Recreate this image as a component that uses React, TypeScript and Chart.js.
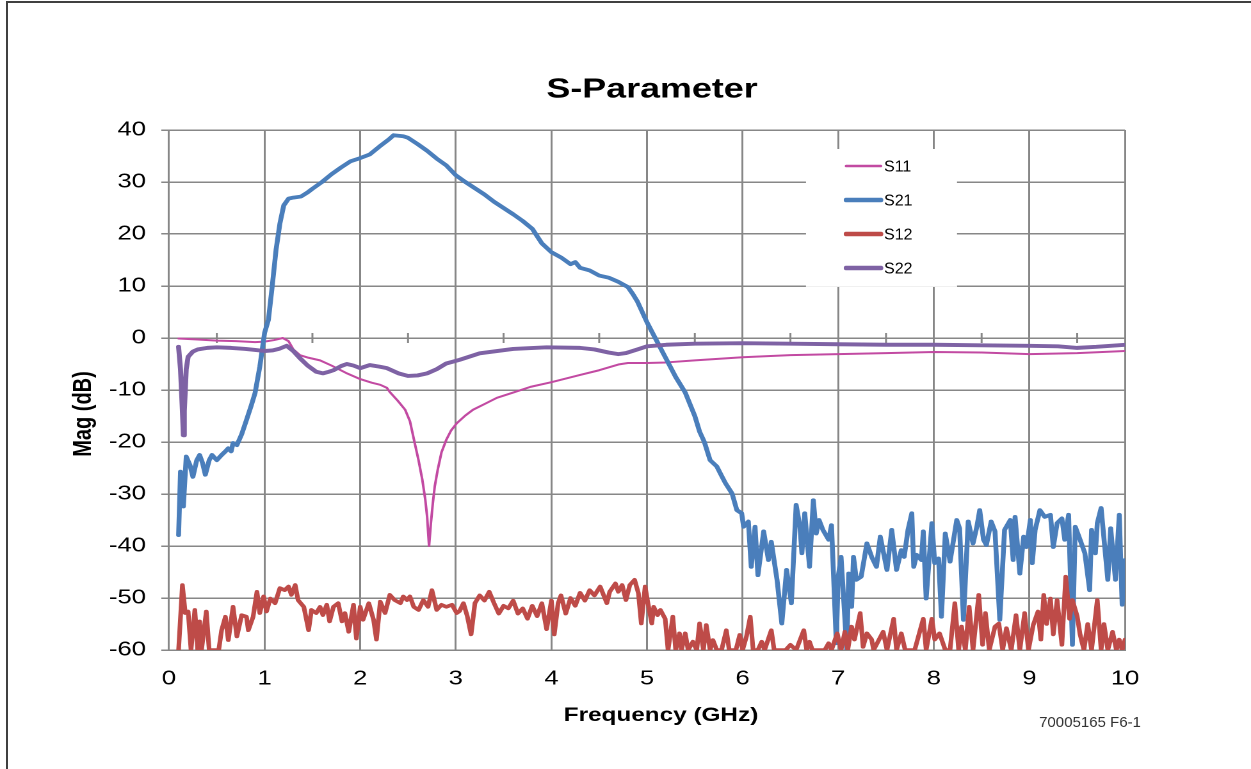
import React, { useEffect, useRef } from "react";
import { Chart, registerables } from "chart.js";

Chart.register(...registerables);

// ---------------- data ----------------
const chartTitle = "S-Parameter";
const xAxisTitle = "Frequency (GHz)";
const yAxisTitle = "Mag (dB)";
const footnote = "70005165 F6-1";

const xTickValues = [0, 1, 2, 3, 4, 5, 6, 7, 8, 9, 10];
const yTickValues = [-60, -50, -40, -30, -20, -10, 0, 10, 20, 30, 40];
const minorTickValues = [0.5, 1.5, 2.5, 3.5, 4.5, 5.5, 6.5, 7.5, 8.5, 9.5];

const seriesNames = ["S11", "S21", "S12", "S22"];
const seriesColors = ["#C24AA2", "#4A7EBB", "#BE4B48", "#7E62A4"];

const s11Freq = [0.1, 0.3, 0.5, 0.7, 0.9, 1.0, 1.1, 1.19, 1.25, 1.3, 1.37, 1.46, 1.58, 1.7, 1.85, 2.0, 2.12, 2.21, 2.28, 2.31, 2.39, 2.47, 2.52, 2.57, 2.61, 2.65, 2.68, 2.7, 2.72, 2.74, 2.76, 2.78, 2.81, 2.85, 2.9, 2.95, 3.01, 3.1, 3.18, 3.3, 3.43, 3.6, 3.78, 4.0, 4.3, 4.5, 4.7, 4.8, 5.0, 5.2, 5.5, 6.0, 6.5, 7.0, 7.5, 8.0, 8.5, 9.0, 9.5, 10.0];
const s11Mag = [-0.1, -0.3, -0.5, -0.6, -0.8, -0.7, -0.4, 0, -0.6, -2.2, -3.3, -3.8, -4.3, -5.3, -6.7, -7.9, -8.6, -9.0, -9.6, -10.4, -12.0, -13.8, -16.0, -20.2, -23.5, -27.3, -31.0, -34.4, -40.0, -35.5, -31.7, -28.5, -25.4, -22.0, -19.6, -17.8, -16.4, -14.9, -13.8, -12.7, -11.5, -10.5, -9.4, -8.5, -7.1, -6.2, -5.1, -4.8, -4.8, -4.7, -4.3, -3.7, -3.3, -3.1, -2.9, -2.7, -2.8, -3.1, -2.9, -2.5];

const s22Freq = [0.1, 0.12, 0.14, 0.15, 0.16, 0.18, 0.2, 0.25, 0.3, 0.4, 0.5, 0.65, 0.8, 0.9, 1.0, 1.08, 1.15, 1.23, 1.3, 1.37, 1.45, 1.54, 1.61, 1.67, 1.72, 1.8, 1.86, 1.93, 2.0, 2.1, 2.2, 2.28, 2.4, 2.5, 2.6, 2.7, 2.8, 2.9, 3.04, 3.25, 3.6, 3.95, 4.3, 4.45, 4.6, 4.7, 4.78, 4.9, 5.0, 5.2, 5.5, 6.0, 6.5, 7.0, 7.5, 8.0, 8.5, 9.0, 9.3, 9.5, 9.7, 10.0];
const s22Mag = [-1.7, -6.0, -14.0, -18.7, -14.0, -6.0, -3.6, -2.6, -2.2, -1.9, -1.8, -1.9, -2.1, -2.3, -2.5, -2.4, -2.1, -1.5, -2.5, -3.9, -5.3, -6.5, -6.8, -6.5, -6.2, -5.4, -5.0, -5.3, -5.8, -5.2, -5.5, -5.8, -6.8, -7.3, -7.2, -6.8, -6.0, -4.9, -4.2, -2.95, -2.1, -1.8, -1.9, -2.2, -2.8, -3.1, -2.9, -2.2, -1.6, -1.3, -1.1, -1.0, -1.1, -1.2, -1.3, -1.3, -1.4, -1.5, -1.6, -1.9, -1.7, -1.3];

const s21Freq = [0.1, 0.12, 0.15, 0.18, 0.22, 0.25, 0.29, 0.32, 0.35, 0.38, 0.42, 0.45, 0.5, 0.55, 0.59, 0.62, 0.65, 0.67, 0.71, 0.76, 0.81, 0.86, 0.9, 0.95, 1.0, 1.04, 1.08, 1.12, 1.16, 1.2, 1.25, 1.3, 1.38, 1.45, 1.5, 1.6, 1.7, 1.8, 1.9, 2.0, 2.1, 2.2, 2.3, 2.35, 2.45, 2.5, 2.6, 2.7, 2.8, 2.9, 3.0, 3.1, 3.2, 3.3, 3.4, 3.5, 3.6, 3.7, 3.8, 3.85, 3.9, 4.0, 4.1, 4.2, 4.25, 4.3, 4.4, 4.5, 4.6, 4.7, 4.8, 4.85, 4.9, 5.0, 5.1, 5.2, 5.3, 5.4, 5.5, 5.55, 5.6, 5.66, 5.73, 5.78, 5.82, 5.89, 5.94, 5.99, 6.01, 6.06, 6.09, 6.13, 6.16, 6.22, 6.27, 6.3, 6.36, 6.41, 6.46, 6.51, 6.56, 6.6, 6.62, 6.65, 6.7, 6.74, 6.77, 6.8, 6.84, 6.9, 6.93, 6.98, 7.0, 7.03, 7.09, 7.11, 7.14, 7.16, 7.19, 7.24, 7.3, 7.35, 7.4, 7.44, 7.51, 7.56, 7.61, 7.66, 7.69, 7.73, 7.77, 7.79, 7.82, 7.87, 7.89, 7.92, 7.98, 8.01, 8.05, 8.08, 8.12, 8.17, 8.24, 8.27, 8.31, 8.36, 8.41, 8.45, 8.48, 8.52, 8.55, 8.6, 8.64, 8.69, 8.74, 8.8, 8.83, 8.85, 8.9, 8.94, 8.97, 9.01, 9.03, 9.06, 9.11, 9.16, 9.22, 9.25, 9.29, 9.34, 9.37, 9.41, 9.45, 9.48, 9.53, 9.58, 9.63, 9.65, 9.69, 9.71, 9.75, 9.82, 9.85, 9.9, 9.94, 9.97, 10.0];
const s21Mag = [-37.9, -25.7, -32.4, -22.8, -24.5, -26.7, -23.5, -22.5, -24.0, -26.3, -23.5, -22.5, -23.5, -22.5, -21.8, -21.2, -21.8, -20.2, -20.6, -18.5, -15.8, -13.0, -10.6, -5.5, 1.0, 3.5, 10.0, 17.0, 22.0, 25.5, 26.8, 27.0, 27.2, 28.0, 28.7, 30.0, 31.5, 32.8, 34.0, 34.6, 35.3, 36.8, 38.2, 39.0, 38.8, 38.5, 37.3, 36.0, 34.5, 33.2, 31.3, 30.0, 28.8, 27.6, 26.2, 25.0, 23.8, 22.5, 21.0, 19.6, 18.2, 16.5, 15.5, 14.2, 14.6, 13.5, 13.0, 12.0, 11.6, 10.8, 9.8, 8.5, 7.0, 3.0, -0.5, -4.0, -7.5, -10.5, -15.0, -18.0, -20.0, -23.5, -24.7, -26.5, -27.9, -29.9, -33.1, -33.7, -36.3, -35.3, -44.0, -36.3, -45.6, -37.2, -42.7, -39.2, -46.5, -54.9, -44.6, -51.0, -32.1, -36.3, -41.4, -33.7, -44.0, -31.2, -37.6, -35.0, -36.9, -38.8, -36.0, -58.7, -45.9, -42.1, -60.0, -45.3, -51.7, -42.1, -46.5, -45.9, -39.5, -42.1, -44.0, -38.2, -44.6, -36.9, -44.6, -40.8, -42.1, -36.9, -33.7, -44.0, -41.7, -42.7, -37.2, -50.1, -35.6, -43.3, -42.4, -53.6, -37.6, -43.0, -35.0, -36.6, -54.2, -35.3, -39.5, -36.3, -33.1, -38.8, -39.8, -35.3, -37.2, -54.2, -36.9, -35.0, -42.7, -34.4, -45.3, -38.2, -40.2, -35.0, -43.3, -36.9, -33.1, -34.4, -34.0, -40.2, -35.6, -34.7, -38.8, -34.0, -59.0, -36.3, -38.8, -41.4, -48.5, -36.9, -41.4, -35.6, -32.7, -46.5, -36.6, -46.5, -34.0, -51.3, -42.7];

const s12Freq = [0.1, 0.14, 0.17, 0.2, 0.23, 0.27, 0.3, 0.32, 0.34, 0.39, 0.42, 0.52, 0.55, 0.59, 0.62, 0.67, 0.71, 0.76, 0.81, 0.83, 0.88, 0.92, 0.95, 0.99, 1.02, 1.06, 1.11, 1.16, 1.21, 1.25, 1.28, 1.32, 1.35, 1.41, 1.46, 1.49, 1.54, 1.58, 1.61, 1.65, 1.68, 1.72, 1.77, 1.81, 1.84, 1.88, 1.93, 1.96, 2.0, 2.03, 2.09, 2.14, 2.17, 2.21, 2.26, 2.31, 2.36, 2.42, 2.45, 2.49, 2.52, 2.56, 2.61, 2.66, 2.71, 2.75, 2.8, 2.85, 2.9, 2.96, 3.01, 3.04, 3.08, 3.12, 3.16, 3.2, 3.25, 3.3, 3.35, 3.4, 3.45, 3.5, 3.55, 3.6, 3.65, 3.7, 3.75, 3.8, 3.85, 3.9, 3.95, 4.0, 4.03, 4.07, 4.1, 4.15, 4.2, 4.25, 4.3, 4.35, 4.4, 4.45, 4.51, 4.58, 4.61, 4.67, 4.7, 4.74, 4.78, 4.82, 4.87, 4.91, 4.94, 4.98, 5.01, 5.05, 5.07, 5.11, 5.14, 5.19, 5.22, 5.27, 5.3, 5.34, 5.36, 5.4, 5.43, 5.48, 5.52, 5.55, 5.59, 5.62, 5.66, 5.69, 5.73, 5.78, 5.83, 5.86, 5.93, 5.97, 6.0, 6.04, 6.08, 6.11, 6.16, 6.2, 6.23, 6.3, 6.33, 6.45, 6.5, 6.56, 6.64, 6.67, 6.7, 6.73, 6.86, 6.9, 6.93, 6.99, 7.03, 7.07, 7.1, 7.14, 7.17, 7.23, 7.26, 7.3, 7.35, 7.37, 7.47, 7.51, 7.58, 7.61, 7.66, 7.7, 7.8, 7.89, 7.92, 7.98, 8.01, 8.06, 8.12, 8.17, 8.22, 8.26, 8.29, 8.33, 8.37, 8.41, 8.47, 8.51, 8.54, 8.58, 8.64, 8.68, 8.72, 8.76, 8.81, 8.86, 8.9, 8.95, 8.99, 9.04, 9.09, 9.12, 9.15, 9.18, 9.22, 9.25, 9.29, 9.34, 9.38, 9.42, 9.45, 9.5, 9.53, 9.57, 9.61, 9.65, 9.71, 9.75, 9.78, 9.82, 9.87, 9.91, 9.94, 9.97, 10.0];
const s12Mag = [-60, -47.5, -52.9, -52.6, -60, -52.3, -60, -54.5, -60, -52.6, -60, -60, -56.2, -53.6, -58.1, -51.7, -57.4, -53.3, -53.6, -56.2, -53.6, -48.8, -52.9, -49.7, -52.6, -50.1, -51.0, -48.1, -48.5, -47.8, -49.4, -47.5, -50.4, -51.7, -56.2, -52.3, -52.9, -51.7, -53.3, -51.3, -54.5, -51.7, -51.0, -54.5, -52.9, -56.5, -51.3, -57.8, -51.7, -54.2, -51.0, -54.2, -58.0, -50.7, -52.9, -49.4, -50.4, -51.0, -49.7, -50.4, -49.7, -51.7, -52.3, -50.4, -51.7, -48.5, -52.3, -51.3, -51.7, -51.3, -52.9, -52.5, -51.0, -53.5, -57.0, -51.0, -49.5, -50.5, -48.8, -51.0, -53.0, -51.5, -52.0, -50.5, -53.0, -52.0, -54.0, -51.5, -53.5, -51.0, -56.0, -50.5, -57.0, -51.0, -49.5, -53.0, -50.0, -51.5, -49.0, -50.5, -48.5, -49.5, -47.8, -51.0, -48.8, -47.2, -48.8, -47.5, -50.4, -47.5, -46.5, -49.1, -54.9, -47.8, -51.0, -54.9, -51.7, -53.3, -52.3, -54.0, -60, -53.6, -60, -56.8, -60, -56.8, -60, -58.4, -60, -54.9, -60, -55.2, -60, -58.1, -60, -60, -56.2, -60, -60, -57.1, -60, -57.4, -53.6, -60, -60, -58.4, -60, -56.2, -60, -60, -59.0, -60, -56.2, -60, -58.4, -60, -60, -58.7, -60, -56.8, -60, -56.5, -60, -55.5, -58.0, -52.9, -59.4, -56.8, -58.0, -60, -56.5, -60, -54.0, -60, -56.8, -60, -60, -54.0, -60, -54.0, -58.0, -56.8, -60, -60, -51.0, -60, -55.5, -60, -51.7, -60, -49.4, -59.0, -52.9, -60, -55.5, -54.9, -60, -55.8, -60, -53.3, -60, -52.9, -60, -55.2, -52.6, -58.0, -49.4, -55.0, -50.1, -57.0, -50.4, -59.0, -45.9, -54.0, -50.4, -53.5, -57.0, -60, -55.0, -60, -50.4, -60, -55.0, -60, -56.5, -60, -58.0, -60, -58.0];

// ---------------- layout constants (page pixels) ----------------
const PAGE_W = 1251;
const PAGE_H = 769;
const INNER_W = 977; // canvas drawing width, stretched horizontally to PAGE_W
const SX = PAGE_W / INNER_W;
const PLOT_LEFT = 169;
const PLOT_RIGHT = 1125;
const PLOT_TOP = 130;
const PLOT_BOTTOM = 650;
const GRID = "#878787";
const FONT = "'Liberation Sans', Arial, Helvetica, sans-serif";

const pairs = (xs: number[], ys: number[]) => xs.map((x, i) => ({ x, y: ys[i] }));

const decorPlugin = {
  id: "decor",
  beforeDatasetsDraw(chart: any) {
    const { ctx, scales } = chart;
    const y0 = scales.y.getPixelForValue(0);
    ctx.save();
    ctx.strokeStyle = GRID;
    ctx.lineWidth = 1.5;
    ctx.beginPath();
    for (const v of minorTickValues) {
      const x = scales.x.getPixelForValue(v);
      ctx.moveTo(x, y0 - 5);
      ctx.lineTo(x, y0 + 5);
    }
    ctx.stroke();
    ctx.restore();
  },
  afterDraw(chart: any) {
    const { ctx } = chart;
    ctx.save();
    ctx.fillStyle = "#000";
    ctx.textAlign = "center";
    ctx.textBaseline = "middle";
    ctx.font = `bold 28px ${FONT}`;
    ctx.fillText(chartTitle, 652 / SX, 90);
    ctx.font = `bold 19px ${FONT}`;
    ctx.fillText(xAxisTitle, 661 / SX, 716);
    ctx.save();
    ctx.translate(84 / SX, 414);
    ctx.rotate(-Math.PI / 2);
    ctx.font = `bold 20px ${FONT}`;
    ctx.fillText(yAxisTitle, 0, 0);
    ctx.restore();

    // unstretched overlays (page pixel coordinates)
    ctx.save();
    ctx.scale(1 / SX, 1);
    // legend
    ctx.fillStyle = "#fff";
    ctx.fillRect(806, 149, 151, 138);
    ctx.strokeStyle = "#f0f0f0";
    ctx.lineWidth = 1;
    ctx.beginPath();
    ctx.moveTo(806, 286.5);
    ctx.lineTo(957, 286.5);
    ctx.stroke();
    const widths = [2.5, 4.5, 4.5, 4.5];
    chart.data.datasets.forEach((ds: any, i: number) => {
      const y = 166 + i * 34;
      ctx.strokeStyle = ds.borderColor;
      ctx.lineWidth = widths[i];
      ctx.lineCap = "round";
      ctx.beginPath();
      ctx.moveTo(846, y);
      ctx.lineTo(881, y);
      ctx.stroke();
      ctx.fillStyle = "#000";
      ctx.textAlign = "left";
      ctx.textBaseline = "middle";
      ctx.font = `16px ${FONT}`;
      ctx.fillText(ds.label, 884, y + 1);
    });
    // footnote
    ctx.fillStyle = "#333";
    ctx.font = `15px ${FONT}`;
    ctx.textAlign = "center";
    ctx.textBaseline = "middle";
    ctx.fillText(footnote, 1090, 723);
    ctx.restore();
    ctx.restore();
  },
};

export default function App() {
  const ref = useRef<HTMLCanvasElement | null>(null);
  useEffect(() => {
    const canvas = ref.current;
    if (!canvas) return;
    const seriesData = [
      pairs(s11Freq, s11Mag),
      pairs(s21Freq, s21Mag),
      pairs(s12Freq, s12Mag),
      pairs(s22Freq, s22Mag),
    ];
    const widths = [2.0, 3.8, 3.6, 3.9];
    const chart = new Chart(canvas, {
      type: "line",
      data: {
        datasets: seriesNames.map((name, i) => ({
          label: name,
          data: seriesData[i],
          borderColor: seriesColors[i],
          backgroundColor: seriesColors[i],
          borderWidth: widths[i],
          borderJoinStyle: "round",
          borderCapStyle: "round",
          pointRadius: 0,
          tension: 0,
          fill: false,
          order: 4 - i,
        })),
      },
      options: {
        animation: false,
        responsive: false,
        devicePixelRatio: 2,
        events: [],
        layout: {
          padding: { left: 0, top: PLOT_TOP, right: INNER_W - PLOT_RIGHT / SX, bottom: 0 },
        },
        plugins: {
          legend: { display: false },
          title: { display: false },
          tooltip: { enabled: false },
        },
        scales: {
          x: {
            type: "linear",
            min: 0,
            max: 10,
            afterBuildTicks: (s: any) => {
              s.ticks = xTickValues.map((v) => ({ value: v }));
            },
            afterFit: (s: any) => {
              s.height = PAGE_H - PLOT_BOTTOM;
            },
            grid: { color: GRID, lineWidth: 1.5, drawTicks: false },
            border: { color: GRID, width: 1.5 },
            ticks: {
              color: "#000",
              font: { family: FONT, size: 20 },
              padding: 17,
              maxRotation: 0,
              autoSkip: false,
            },
          },
          y: {
            type: "linear",
            min: -60,
            max: 40,
            afterBuildTicks: (s: any) => {
              s.ticks = yTickValues.map((v) => ({ value: v }));
            },
            afterFit: (s: any) => {
              s.width = PLOT_LEFT / SX;
            },
            grid: { color: GRID, lineWidth: 1.5, tickLength: 6 },
            border: { color: GRID, width: 1.5 },
            ticks: {
              color: "#000",
              font: { family: FONT, size: 20 },
              padding: 12,
              autoSkip: false,
            },
          },
        },
      },
      plugins: [decorPlugin],
    } as any);
    return () => chart.destroy();
  }, []);

  return (
    <div style={{ position: "absolute", left: 0, top: 0, width: PAGE_W, height: PAGE_H, background: "#fff", overflow: "hidden" }}>
      <canvas
        ref={ref}
        width={INNER_W}
        height={PAGE_H}
        style={{ position: "absolute", left: 0, top: 0, width: PAGE_W, height: PAGE_H, display: "block" }}
      />
      <div
        style={{
          position: "absolute",
          left: 6,
          top: 1,
          width: PAGE_W - 6,
          height: PAGE_H - 1,
          borderLeft: "2px solid #404040",
          borderTop: "2px solid #404040",
          boxSizing: "border-box",
          pointerEvents: "none",
        }}
      />
    </div>
  );
}
